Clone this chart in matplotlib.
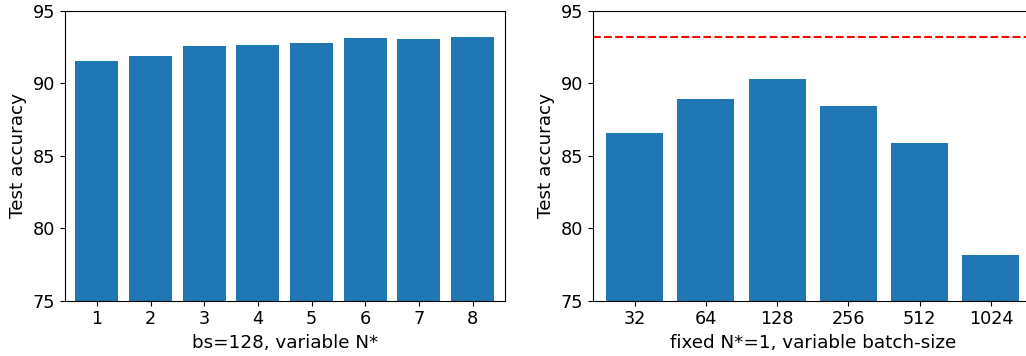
import matplotlib
matplotlib.use("Agg")
import matplotlib.pyplot as plt

n_labels = ["1", "2", "3", "4", "5", "6", "7", "8"]
acc_n = [91.52, 91.91, 92.58, 92.67, 92.79, 93.13, 93.09, 93.22]

bs_labels = ["32", "64", "128", "256", "512", "1024"]
acc_bs = [86.55, 88.94, 90.32, 88.46, 85.86, 78.14]

ref_line = 93.22

plt.rcParams['font.size'] = 13
plt.rcParams['xtick.labelsize'] = 12.7
plt.rcParams['ytick.labelsize'] = 12.7
plt.rcParams['axes.labelsize'] = 13.2

fig = plt.figure(figsize=(10.26, 3.56), dpi=100)
W, H = 1026, 356
ax1 = fig.add_axes([65/W, (H-300.7)/H, (504.5-65)/W, 289.7/H])
ax2 = fig.add_axes([592.7/W, (H-300.7)/H, (1033-592.7)/W, 289.7/H])

ax1.bar(n_labels, acc_n, color="#1f77b4")
ax1.set_xlim(-0.595, 7.595)
ax1.set_ylim(75, 95)
ax1.set_yticks([75, 80, 85, 90, 95])
ax1.set_xlabel("bs=128, variable N*")
ax1.set_ylabel("Test accuracy")

ax2.bar(bs_labels, acc_bs, color="#1f77b4")
ax2.axhline(ref_line, color="red", linestyle="--")
ax2.set_xlim(-0.59, 5.59)
ax2.set_ylim(75, 95)
ax2.set_yticks([75, 80, 85, 90, 95])
ax2.set_xlabel("fixed N*=1, variable batch-size")
ax2.set_ylabel("Test accuracy")

fig.savefig("out.png", dpi=100)
